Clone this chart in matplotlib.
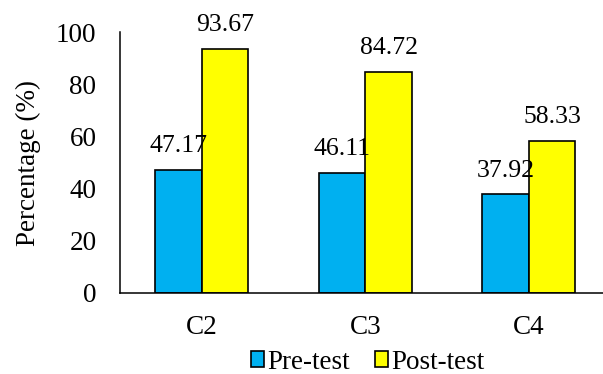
import matplotlib.pyplot as plt
import numpy as np

plt.rcParams['font.family'] = ['Liberation Serif', 'DejaVu Serif']

# Data
categorias = ['C2', 'C3', 'C4']
pre_test = [47.17, 46.11, 37.92]
post_test = [93.67, 84.72, 58.33]

fs = 19.5

fig = plt.figure(figsize=(6.03, 3.74), dpi=100)
ax = fig.add_axes([120 / 603, 1 - 293 / 374, (603 - 120) / 603, (293 - 32) / 374])

x = np.arange(len(categorias))
w = 0.285
b1 = ax.bar(x - w / 2, pre_test, w, color='#00B0F0', edgecolor='black', linewidth=1.2, label='Pre-test')
b2 = ax.bar(x + w / 2, post_test, w, color='#FFFF00', edgecolor='black', linewidth=1.2, label='Post-test')

for bars in (b1, b2):
    for r in bars:
        ax.annotate(f'{r.get_height():.2f}', (r.get_x() + r.get_width() / 2, r.get_height()),
                    xytext=(0, 9), textcoords='offset points', ha='center', va='bottom', fontsize=18.5)

ax.set_xlim(-0.5, 2.454)
ax.set_ylim(0, 100)
ax.set_yticks(range(0, 101, 20))
ax.set_xticks(x)
ax.set_xticklabels(categorias)
ax.tick_params(axis='both', length=0, labelsize=fs)
ax.tick_params(axis='y', pad=17)
ax.tick_params(axis='x', pad=16)
ax.set_ylabel('Percentage (%)', fontsize=fs, labelpad=11)

for s in ['top', 'right']:
    ax.spines[s].set_visible(False)
for s in ['left', 'bottom']:
    ax.spines[s].set_linewidth(1.1)

fig.legend(handles=[b1, b2], loc='center', bbox_to_anchor=(0.61, 0.032), ncol=2, frameon=False,
           fontsize=fs, handlelength=0.5, handleheight=0.5, handletextpad=0.12, columnspacing=0.9,
           borderpad=0, borderaxespad=0)

fig.savefig('out.png', dpi=100)
